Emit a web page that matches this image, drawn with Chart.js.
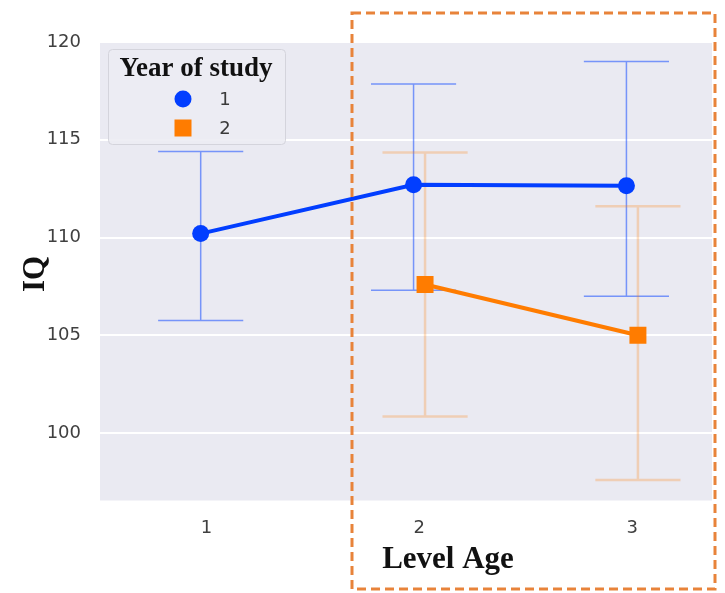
<!DOCTYPE html>
<html>
<head>
<meta charset="utf-8">
<script src="https://cdn.jsdelivr.net/npm/chart.js@4.4.1/dist/chart.umd.min.js"></script>
<style>
  html, body { margin: 0; padding: 0; background: #fff; }
  #wrap { width: 725px; height: 593px; }
</style>
</head>
<body>
<div id="wrap"><canvas id="myChart" width="725" height="593"></canvas></div>
<script>
// values
var levelAges = [1, 2, 3];
var seriesNames = ["1", "2"];
var iqYear1 = [110.2, 112.7, 112.65];
var lowYear1 = [105.75, 107.3, 107.0];
var highYear1 = [114.4, 117.85, 119.0];
var iqYear2 = [null, 107.6, 105.0];
var lowYear2 = [null, 100.85, 97.6];
var highYear2 = [null, 114.35, 111.6];
var yTicks = [100, 105, 110, 115, 120];

var blue = "#023eff";
var orange = "#ff7c00";
var dodge = 0.027;
var capHalf = 0.2;

function points(values, shift) {
  var out = [];
  for (var i = 0; i < levelAges.length; i++) {
    if (values[i] !== null) out.push({ x: levelAges[i] + shift, y: values[i] });
  }
  return out;
}

var errorBars = [
  { low: lowYear1, high: highYear1, shift: -dodge, color: "rgba(2, 62, 255, 0.5)", width: 1.5 },
  { low: lowYear2, high: highYear2, shift: dodge, color: "rgba(255, 124, 0, 0.25)", width: 2.5 }
];

var panelPlugin = {
  id: "panel",
  beforeDraw: function (chart) {
    var a = chart.chartArea;
    var ctx = chart.ctx;
    ctx.save();
    ctx.fillStyle = "#eaeaf2";
    ctx.fillRect(a.left, a.top, a.right - a.left, a.bottom - a.top);
    ctx.restore();
  },
  beforeDatasetsDraw: function (chart) {
    var ctx = chart.ctx;
    var xs = chart.scales.x, ys = chart.scales.y;
    ctx.save();
    errorBars.forEach(function (eb) {
      ctx.strokeStyle = eb.color;
      ctx.lineWidth = eb.width;
      for (var i = 0; i < levelAges.length; i++) {
        if (eb.low[i] === null) continue;
        var cx = xs.getPixelForValue(levelAges[i] + eb.shift);
        var l = xs.getPixelForValue(levelAges[i] + eb.shift - capHalf);
        var r = xs.getPixelForValue(levelAges[i] + eb.shift + capHalf);
        var top = ys.getPixelForValue(eb.high[i]);
        var bot = ys.getPixelForValue(eb.low[i]);
        ctx.beginPath();
        ctx.moveTo(cx, top); ctx.lineTo(cx, bot);
        ctx.moveTo(l, top); ctx.lineTo(r, top);
        ctx.moveTo(l, bot); ctx.lineTo(r, bot);
        ctx.stroke();
      }
    });
    ctx.restore();
  },
  afterDraw: function (chart) {
    var ctx = chart.ctx;
    ctx.save();
    // axis titles
    ctx.fillStyle = "#111";
    ctx.font = "bold 31px 'Liberation Serif', serif";
    ctx.textAlign = "center";
    ctx.textBaseline = "alphabetic";
    ctx.fillText("Level Age", 448, 568);
    ctx.save();
    ctx.translate(44, 274);
    ctx.rotate(-Math.PI / 2);
    ctx.fillText("IQ", 0, 0);
    ctx.restore();

    // legend
    ctx.fillStyle = "rgba(236, 236, 243, 0.9)";
    ctx.strokeStyle = "#d4d4dc";
    ctx.lineWidth = 1;
    ctx.beginPath();
    ctx.roundRect(108.5, 49.5, 177, 95, 4);
    ctx.fill();
    ctx.stroke();
    ctx.fillStyle = "#111";
    ctx.font = "bold 27px 'Liberation Serif', serif";
    ctx.fillText("Year of study", 196, 76);
    var colors = [blue, orange];
    var rows = [99, 128];
    for (var i = 0; i < seriesNames.length; i++) {
      ctx.fillStyle = colors[i];
      ctx.beginPath();
      if (i === 0) ctx.arc(183, rows[i], 8.5, 0, Math.PI * 2);
      else ctx.rect(174.5, rows[i] - 8.5, 17, 17);
      ctx.fill();
      ctx.fillStyle = "#3a3a3a";
      ctx.font = "18px 'DejaVu Sans', sans-serif";
      ctx.textBaseline = "middle";
      ctx.fillText(seriesNames[i], 225, rows[i] + 1);
      ctx.textBaseline = "alphabetic";
    }

    // dashed highlight frame
    ctx.strokeStyle = "#e8833a";
    ctx.lineWidth = 3;
    ctx.setLineDash([9, 5]);
    ctx.strokeRect(352, 13, 363, 576);
    ctx.restore();
  }
};

var ctx = document.getElementById("myChart").getContext("2d");
var myChart = new Chart(ctx, {
  type: "line",
  data: {
    datasets: [
      {
        label: seriesNames[0],
        data: points(iqYear1, -dodge),
        borderColor: blue,
        backgroundColor: blue,
        borderWidth: 4,
        pointStyle: "circle",
        pointRadius: 8.5,
        pointBorderWidth: 0,
        pointBackgroundColor: blue
      },
      {
        label: seriesNames[1],
        data: points(iqYear2, dodge),
        borderColor: orange,
        backgroundColor: orange,
        borderWidth: 4,
        pointStyle: "rect",
        pointRadius: 12,
        pointBorderWidth: 0,
        pointBackgroundColor: orange
      }
    ]
  },
  options: {
    responsive: false,
    animation: false,
    layout: { padding: { top: 42, right: 13, left: 0, bottom: 0 } },
    plugins: { legend: { display: false }, tooltip: { enabled: false } },
    scales: {
      x: {
        type: "linear",
        min: 0.5,
        max: 3.375,
        afterBuildTicks: function (scale) {
          scale.ticks = levelAges.map(function (v) { return { value: v }; });
        },
        afterFit: function (scale) { scale.height = 92.5; },
        grid: { display: false, drawTicks: false },
        border: { display: false },
        ticks: {
          padding: 17,
          color: "#404040",
          font: { family: "'DejaVu Sans', sans-serif", size: 18 },
          maxRotation: 0
        }
      },
      y: {
        min: 96.55,
        max: 120,
        afterBuildTicks: function (scale) {
          scale.ticks = yTicks.map(function (v) { return { value: v }; });
        },
        afterFit: function (scale) { scale.width = 100; },
        grid: { color: "#ffffff", lineWidth: 2, drawTicks: false },
        border: { display: false },
        ticks: {
          padding: 19,
          color: "#404040",
          font: { family: "'DejaVu Sans', sans-serif", size: 18 }
        }
      }
    }
  },
  plugins: [panelPlugin]
});
</script>
</body>
</html>
